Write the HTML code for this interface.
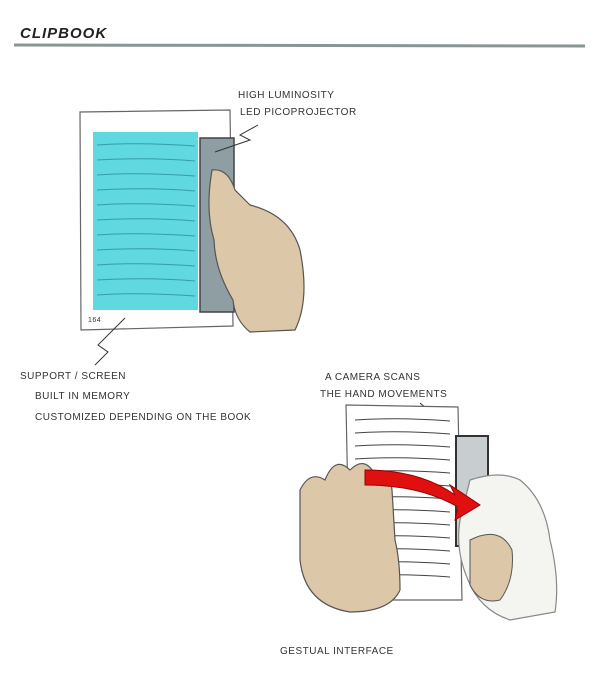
<!DOCTYPE html>
<html><head><meta charset="utf-8"><style>
html,body{margin:0;padding:0;background:#fff;width:600px;height:700px;overflow:hidden}
svg{display:block}
text{font-family:"Liberation Sans",sans-serif;fill:#333;font-size:10px;letter-spacing:0.5px}
</style></head><body>
<svg width="600" height="700" viewBox="0 0 600 700" xmlns="http://www.w3.org/2000/svg">
<text x="20" y="38" style="font-size:15px;font-weight:bold;font-style:italic;fill:#222;letter-spacing:1px">CLIPBOOK</text>
<line x1="14" y1="45" x2="585" y2="46" stroke="#8a9696" stroke-width="3"/>

<polygon points="80,112 230,110 233,326 81,330" fill="#fff" stroke="#666" stroke-width="1.2"/>
<rect x="93" y="132" width="105" height="178" fill="#5fd8e0"/>
<g stroke="#2a8f98" stroke-width="1" fill="none" opacity="0.8">
<path d="M97 145 Q140 142 195 146 M97 160 Q150 157 195 161 M97 175 Q140 172 195 176 M97 190 Q150 187 195 191 M97 205 Q140 202 195 206 M97 220 Q150 217 195 221 M97 235 Q140 232 195 236 M97 250 Q150 247 195 251 M97 265 Q140 262 195 266 M97 280 Q150 277 195 281 M97 295 Q140 292 195 296"/>
</g>
<rect x="200" y="138" width="34" height="174" fill="#8e9ea2" stroke="#444" stroke-width="1.5"/>
<path d="M212 170 Q228 168 235 190 L250 205 Q290 215 300 250 Q310 300 295 330 L250 332 Q235 320 233 300 Q215 270 214 240 Q205 210 212 170 Z" fill="#dcc7a8" stroke="#555" stroke-width="1.2"/>
<text x="88" y="322" style="font-size:7px">164</text>
<text x="238" y="98">HIGH LUMINOSITY</text>
<text x="240" y="115">LED PICOPROJECTOR</text>
<path d="M258 125 L240 135 L250 140 L215 152" stroke="#333" fill="none"/>
<text x="20" y="379">SUPPORT / SCREEN</text>
<text x="35" y="399">BUILT IN MEMORY</text>
<text x="35" y="420">CUSTOMIZED DEPENDING ON THE BOOK</text>
<path d="M95 365 L108 352 L98 345 L125 318" stroke="#333" fill="none"/>

<text x="325" y="380">A CAMERA SCANS</text>
<text x="320" y="397">THE HAND MOVEMENTS</text>
<path d="M420 403 L440 420 L430 425 L460 440" stroke="#333" fill="none"/>
<polygon points="346,405 458,407 462,600 350,600" fill="#fff" stroke="#666" stroke-width="1.2"/>
<g stroke="#444" stroke-width="1" fill="none">
<path d="M355 420 Q400 417 450 421 M355 433 Q400 430 450 434 M355 446 Q400 443 450 447 M355 459 Q400 456 450 460 M355 472 Q400 469 450 473 M355 485 Q400 482 450 486 M355 498 Q400 495 450 499 M355 511 Q400 508 450 512 M355 524 Q400 521 450 525 M355 537 Q400 534 450 538 M355 550 Q400 547 450 551 M355 563 Q400 560 450 564 M355 576 Q400 573 450 577"/>
</g>
<rect x="456" y="436" width="32" height="110" fill="#c8ced0" stroke="#333" stroke-width="2"/>
<path d="M300 490 Q310 470 325 480 Q335 455 350 470 Q365 455 375 475 Q390 470 392 490 L395 540 Q400 560 400 590 Q390 612 350 612 Q305 605 300 560 Z" fill="#dcc7a8" stroke="#555" stroke-width="1.2"/>
<path d="M470 480 Q500 470 520 480 Q545 500 550 540 Q560 580 555 612 L510 620 Q480 610 468 580 Q455 550 460 520 Z" fill="#f4f4f1" stroke="#888" stroke-width="1.2"/>
<path d="M470 540 Q500 525 512 550 Q515 580 500 600 Q480 605 470 585 Z" fill="#dcc7a8" stroke="#555" stroke-width="1"/>
<path d="M365 470 Q420 470 455 495 L450 485 L480 505 L455 520 L458 507 Q420 485 365 485 Z" fill="#e01010" stroke="#900" stroke-width="1"/>
<text x="280" y="654">GESTUAL INTERFACE</text>
</svg>
</body></html>
